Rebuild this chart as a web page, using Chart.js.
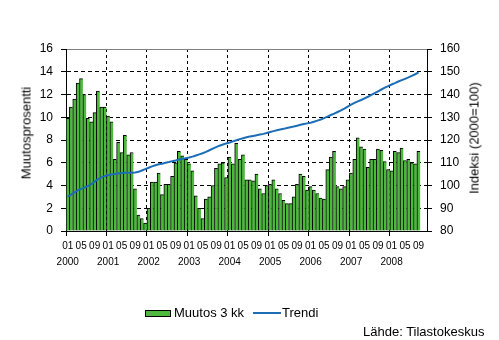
<!DOCTYPE html>
<html>
<head>
<meta charset="utf-8">
<script src="https://cdn.jsdelivr.net/npm/chart.js@4"></script>
<style>
  body { margin: 0; background: #fff; }
  #wrap { position: relative; width: 499px; height: 340px; font-family: "Liberation Sans", Arial, sans-serif; font-size: 13px; color: #000; }
  #wrap canvas { position: absolute; left: 0; top: 0; }
  .txt { position: absolute; white-space: nowrap; line-height: 15px; }
  .vtitle { position: absolute; white-space: nowrap; line-height: 15px; transform: translate(-50%, -50%) rotate(-90deg); }
  .sw-bar { position: absolute; left: 145px; top: 310px; width: 24px; height: 5px; background: #4cb83c; border: 1px solid #000; }
  .sw-line { position: absolute; left: 253px; top: 312px; width: 28px; height: 2px; background: #1c6db6; }
</style>
</head>
<body>
<div id="wrap">
  <canvas id="chart" width="499" height="340"></canvas>
  <div class="vtitle" style="left:26px; top:133px;">Muutosprosentti</div>
  <div class="vtitle" style="left:474px; top:138px;">Indeksi (2000=100)</div>
  <div class="sw-bar"></div>
  <div class="txt" style="left:174px; top:305px;">Muutos 3 kk</div>
  <div class="sw-line"></div>
  <div class="txt" style="left:282px; top:305px;">Trendi</div>
  <div class="txt" style="left:363px; top:324px;">Lähde: Tilastokeskus</div>
</div>
<script>
// Kuukausisarja 2000/01–2008/09; akselilla kaksi tyhjää kuukautta lopussa
const years  = ['2000', '2001', '2002', '2003', '2004', '2005', '2006', '2007', '2008'];
const months = ['01', '02', '03', '04', '05', '06', '07', '08', '09', '10', '11', '12'];
const shownMonths = { 0: '01', 4: '05', 8: '09' };

// Muutos 3 kk, %
const muutos3kk = [
  9.9, 10.9, 11.6, 13.0, 13.4, 12.0, 9.9, 9.6, 10.4, 12.3, 10.9, 10.9,
  10.1, 9.6, 6.3, 7.8, 6.9, 8.4, 6.7, 6.9, 3.7, 1.4, 1.1, 0.7,
  2.0, 4.3, 4.3, 5.1, 3.2, 4.1, 4.1, 4.8, 6.0, 7.0, 6.6, 6.3,
  5.9, 5.3, 3.1, 2.0, 1.1, 2.8, 3.0, 4.0, 5.5, 5.9, 6.0, 4.7,
  6.5, 5.9, 7.7, 6.3, 6.7, 4.5, 4.5, 4.4, 5.0, 3.7, 3.3, 4.0,
  4.1, 4.5, 3.7, 3.3, 2.7, 2.4, 2.4, 3.0, 4.1, 5.0, 4.8, 3.6,
  3.9, 3.6, 3.3, 2.9, 2.8, 5.4, 6.5, 7.0, 3.9, 3.7, 3.9, 4.5,
  5.1, 6.3, 8.2, 7.4, 7.2, 5.6, 6.3, 6.3, 7.2, 7.1, 6.1, 5.4,
  5.3, 7.0, 6.9, 7.3, 6.2, 6.3, 6.0, 5.9, 7.0
];

// Trendi, indeksi 2000=100
const trendi = [
  95.1, 96.0, 97.0, 97.9, 98.5, 99.1, 99.7, 100.6, 101.7, 102.8, 103.6, 104.2,
  104.5, 104.8, 105.1, 105.3, 105.5, 105.6, 105.6, 105.6, 105.7, 106.0, 106.6, 107.2,
  107.8, 108.4, 108.9, 109.3, 109.6, 110.0, 110.3, 110.7, 111.0, 111.4, 111.7, 112.0,
  112.3, 112.7, 113.2, 113.7, 114.2, 114.8, 115.5, 116.2, 116.9, 117.5, 118.0, 118.5,
  118.9, 119.4, 119.9, 120.4, 120.8, 121.2, 121.5, 121.8, 122.1, 122.4, 122.7, 123.1,
  123.5, 123.9, 124.3, 124.6, 124.9, 125.3, 125.6, 125.9, 126.3, 126.7, 127.0, 127.3,
  127.6, 128.0, 128.5, 129.0, 129.6, 130.3, 131.0, 131.6, 132.3, 133.0, 133.8, 134.7,
  135.5, 136.3, 137.0, 137.6, 138.3, 139.0, 139.8, 140.6, 141.4, 142.2, 143.0, 143.7,
  144.4, 145.0, 145.7, 146.3, 146.9, 147.5, 148.2, 148.9, 149.7
];

const categories = [];
years.forEach(y => months.forEach(m => categories.push(y + '-' + m)));
const labels = categories.slice(0, 107);

const FONT = '"Liberation Sans", Arial, sans-serif';
const isYear = i => i % 12 === 0;

new Chart(document.getElementById('chart'), {
  data: {
    labels,
    datasets: [
      {
        type: 'line', label: 'Trendi', data: trendi, yAxisID: 'y1', order: 1,
        borderColor: '#1c6db6', borderWidth: 2, pointRadius: 0, tension: 0,
      },
      {
        type: 'bar', label: 'Muutos 3 kk', data: muutos3kk, yAxisID: 'y', order: 2,
        backgroundColor: '#4cb83c', borderColor: '#000',
        borderWidth: { top: 1, left: 1, right: 0, bottom: 0 },
        barPercentage: 1, categoryPercentage: 1,
      },
    ]
  },
  options: {
    responsive: false,
    animation: false,
    layout: { padding: { top: 49, left: 0, right: 0, bottom: 0 } },
    plugins: { legend: { display: false }, tooltip: { enabled: false } },
    scales: {
      x: {
        type: 'category',
        offset: true,
        afterFit: s => { s.height = 109; },
        border: { color: '#000', width: 1, dash: [3, 3] },
        grid: {
          offset: true,
          color: c => (isYear(c.index) && c.index > 0 && c.index < 107) ? '#000' : 'rgba(0,0,0,0)',
          tickColor: c => isYear(c.index) ? '#000' : 'rgba(0,0,0,0)',
          tickLength: 5,
        },
        ticks: {
          autoSkip: false, maxRotation: 0, minRotation: 0, padding: 2, color: '#000',
          font: { family: FONT, size: 10, lineHeight: 1.6 },
          callback: (v, i) => {
            const m = shownMonths[i % 12];
            if (!m) return '';
            return i % 12 === 0 ? [m, years[i / 12]] : m;
          },
        },
      },
      y: {
        position: 'left', min: 0, max: 16,
        afterFit: s => { s.width = 66; },
        border: { color: '#000', width: 1, dash: c => (c.tick && c.tick.value === 16) ? [] : [4, 3] },
        grid: {
          color: c => c.tick.value === 0 ? 'rgba(0,0,0,0)' : (c.tick.value === 16 ? '#808080' : '#000'),
          tickColor: '#000',
          tickLength: 5,
        },
        ticks: { stepSize: 2, padding: 8, color: '#000', font: { family: FONT, size: 12 } },
      },
      y1: {
        position: 'right', min: 80, max: 160,
        afterFit: s => { s.width = 72; },
        border: { color: '#000', width: 1 },
        grid: { drawOnChartArea: false, tickColor: '#000', tickLength: 5 },
        ticks: { stepSize: 10, padding: 8, color: '#000', font: { family: FONT, size: 12 } },
      },
    },
  },
});
</script>
</body>
</html>
